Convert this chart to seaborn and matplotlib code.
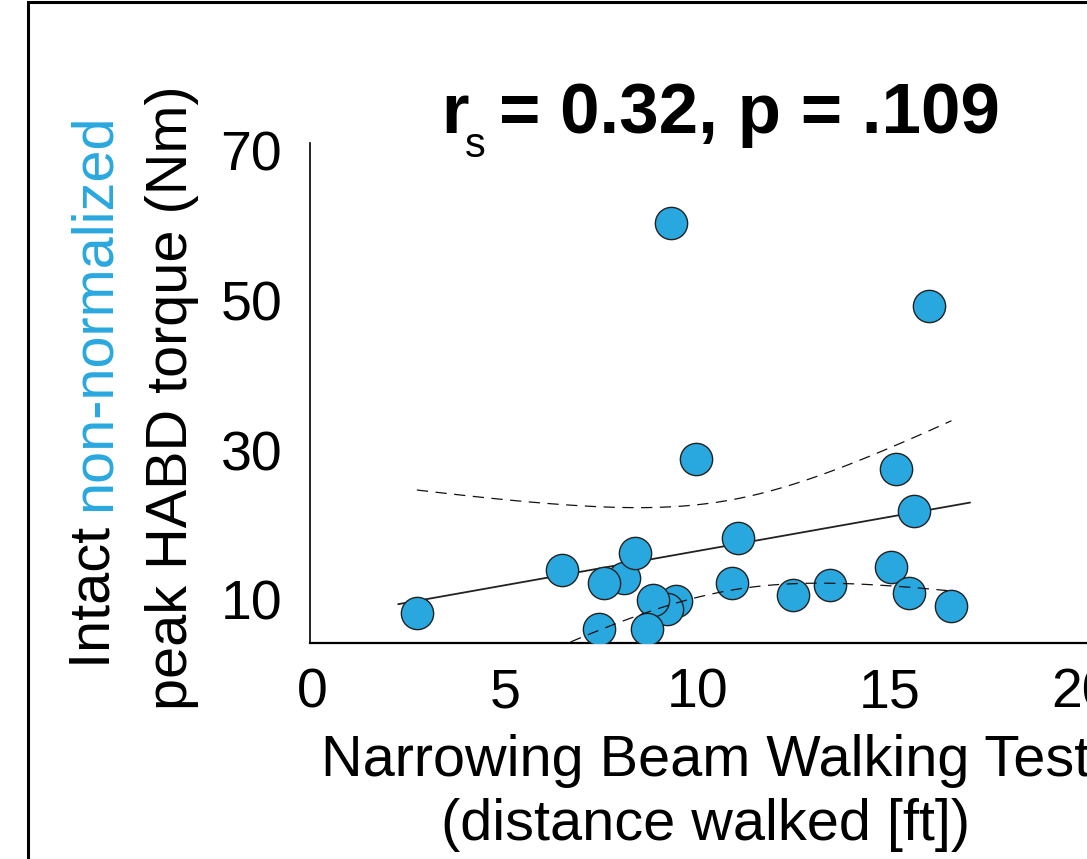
import numpy as np
import pandas as pd
import matplotlib
matplotlib.use("Agg")
import matplotlib.pyplot as plt
import matplotlib.patches as patches
import seaborn as sns

# distance walked on the narrowing beam (ft) vs intact peak HABD torque (Nm)
beam_ft = [8.10, 9.45, 9.22, 8.85, 2.71, 6.48, 7.58, 8.39, 7.45, 8.70, 9.32,
           9.97, 11.07, 10.91, 12.50, 13.44, 16.04, 15.18, 15.65, 15.03, 15.50, 16.61]
torque_nm = [12.9, 9.9, 8.8, 10.0, 8.3, 14.0, 12.3, 16.3, 6.1, 6.1, 60.3,
             28.8, 18.3, 12.3, 10.7, 12.0, 49.3, 27.5, 21.9, 14.4, 10.9, 9.2]
x_ticks = [0, 5, 10, 15, 20]
y_ticks = [10, 30, 50, 70]
r_s = "0.32"
p_val = ".109"

BLUE = "#29a8df"
INK = "black"

sns.set_style("ticks")
plt.rcParams["font.family"] = ["Liberation Sans", "DejaVu Sans"]
plt.rcParams.update({"text.color": INK, "axes.labelcolor": INK,
                     "xtick.color": INK, "ytick.color": INK,
                     "axes.edgecolor": INK})

df = pd.DataFrame({"beam": beam_ft, "torque": torque_nm})

# linear fit + 95% confidence band for the mean
x = df["beam"].to_numpy()
y = df["torque"].to_numpy()
n = len(x)
slope, intercept = np.polyfit(x, y, 1)
resid = y - (intercept + slope * x)
s_err = np.sqrt(np.sum(resid ** 2) / (n - 2))
sxx = np.sum((x - x.mean()) ** 2)
t_crit = 2.086  # t(0.975, df=20)

pad = 0.035 * (x.max() - x.min())
grid_fit = np.linspace(x.min() - pad, x.max() + pad, 50)
grid_ci = np.linspace(x.min(), x.max(), 100)
half = t_crit * s_err * np.sqrt(1 / n + (grid_ci - x.mean()) ** 2 / sxx)
fit_ci = intercept + slope * grid_ci

W, H = 1087, 859
fig = plt.figure(figsize=(W / 100, H / 100), dpi=100)
ax = fig.add_axes([310 / W, 1 - 643 / H, (1101 - 310) / W, 500 / H])

sns.lineplot(x=grid_fit, y=intercept + slope * grid_fit, ax=ax,
             color="#222222", lw=1.3, zorder=2)
sns.scatterplot(data=df, x="beam", y="torque", ax=ax, s=540, color=BLUE,
                edgecolor="#222222", linewidth=1.0, zorder=3)
sns.lineplot(x=grid_ci, y=fit_ci + half, ax=ax, color="#111111", lw=0.9,
             linestyle=(0, (9, 6)), zorder=4)
sns.lineplot(x=grid_ci, y=fit_ci - half, ax=ax, color="#111111", lw=0.9,
             linestyle=(0, (9, 6)), zorder=4)

ax.set_xlim(-0.07, 20.5)
ax.set_ylim(4.26, 71.0)
ax.set_xticks(x_ticks)
ax.set_yticks(y_ticks)
ax.tick_params(length=0, labelsize=40, pad=20)
ax.tick_params(axis="x", pad=18)
for side in ["top", "right"]:
    ax.spines[side].set_visible(False)
ax.spines["left"].set_linewidth(1.2)
ax.spines["bottom"].set_linewidth(1.6)
ax.set_xlabel("Narrowing Beam Walking Test\n(distance walked [ft])",
              fontsize=41.5, labelpad=10, linespacing=1.25)
ax.set_ylabel("")

r = fig.canvas.get_renderer()

# title: r with a low subscript s, then the statistics
base = H - 133
fig.text(441 / W, base / H, "r", fontsize=51, fontweight="bold",
         ha="left", va="baseline")
fig.text(465 / W, (base - 24) / H, "s", fontsize=30,
         ha="left", va="baseline")
fig.text(499 / W, base / H, f"= {r_s}, p = {p_val}", fontsize=51,
         fontweight="bold", ha="left", va="baseline")

# two-line y label, first line partly blue
fig.text(172 / W, 1 - 398 / H, "peak HABD torque (Nm)", fontsize=41.5,
         rotation=90, ha="center", va="center")
t1 = fig.text(0, 0, "Intact ", fontsize=41.5, rotation=90)
t2 = fig.text(0, 0, "non-normalized", fontsize=41.5, rotation=90, color=BLUE)
h1 = t1.get_window_extent(r).height
h2 = t2.get_window_extent(r).height
y0 = (H - 391) - (h1 + h2) / 2
xc = 95 / W
t1.set_position((xc, y0 / H))
t1.set_ha("center")
t1.set_va("bottom")
t2.set_position((xc, (y0 + h1) / H))
t2.set_ha("center")
t2.set_va("bottom")

# panel frame, cut off at right and bottom
fig.patches.append(patches.Rectangle((28 / W, -1), 2, 1 - 1.5 / H + 1,
                                     transform=fig.transFigure, fill=False,
                                     edgecolor="black", lw=2.2))

fig.savefig("out.png", dpi=100)
